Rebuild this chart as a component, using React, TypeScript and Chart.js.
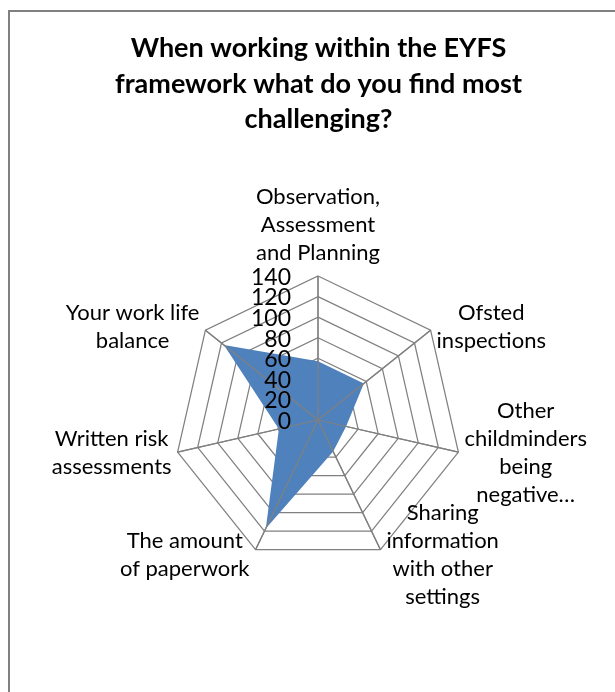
import React, { useEffect, useRef } from "react";
import { Chart, registerables } from "chart.js";

Chart.register(...registerables);

const TITLE_LINES = [
  "When working within the EYFS",
  "framework what do you find most",
  "challenging?",
];

const CATEGORIES: string[][] = [
  ["Observation,", "Assessment", "and Planning"],
  ["Ofsted", "inspections"],
  ["Other", "childminders", "being", "negative…"],
  ["Sharing", "information", "with other", "settings"],
  ["The amount", "of paperwork"],
  ["Written risk", "assessments"],
  ["Your work life", "balance"],
];

const SERIES_VALUES = [57, 57, 28, 34, 117, 39, 117];

const TICK_MIN = 0;
const TICK_MAX = 140;
const TICK_STEP = 20;

const GRID_COLOR = "#808080";
const FILL_COLOR = "#4F81BD";
const FONT_FAMILY = "Lato, 'Open Sans', sans-serif";

const overlayPlugin = {
  id: "overlay",
  afterDatasetsDraw(chart: any) {
    const scale = chart.scales.r;
    const ctx: CanvasRenderingContext2D = chart.ctx;
    const n = CATEGORIES.length;
    ctx.save();
    // spokes drawn over the filled area
    ctx.strokeStyle = GRID_COLOR;
    ctx.lineWidth = 1.25;
    for (let i = 0; i < n; i++) {
      const p = scale.getPointPosition(i, scale.drawingArea);
      ctx.beginPath();
      ctx.moveTo(scale.xCenter, scale.yCenter);
      ctx.lineTo(p.x, p.y);
      ctx.stroke();
    }
    // point labels, centred multi-line blocks
    const lh = 28;
    ctx.font = `22px ${FONT_FAMILY}`;
    ctx.fillStyle = "#000";
    ctx.textBaseline = "middle";
    ctx.textAlign = "center";
    for (let i = 0; i < n; i++) {
      const lines = CATEGORIES[i];
      const w = Math.max(...lines.map((l) => ctx.measureText(l).width));
      const p = scale.getPointPosition(i, scale.drawingArea);
      const a = scale.getIndexAngle(i);
      const dx = Math.sin(a);
      const dy = -Math.cos(a);
      let cx: number;
      let cy: number;
      const h = lines.length * lh;
      if (Math.abs(dx) < 0.05) {
        cx = p.x;
        cy = p.y - 9 - h / 2;
      } else {
        const gap = 6;
        cx = dx > 0 ? p.x + gap + w / 2 : p.x - gap - w / 2;
        cy = p.y + dy * 6;
      }
      lines.forEach((l, k) => {
        ctx.fillText(l, cx, cy - h / 2 + (k + 0.5) * lh);
      });
    }
    // tick labels, right-aligned left of the vertical axis
    ctx.textAlign = "right";
    ctx.font = `23px ${FONT_FAMILY}`;
    scale.ticks.forEach((t: any) => {
      const d = scale.getDistanceFromCenterForValue(t.value);
      ctx.fillText(String(t.value), scale.xCenter - 27, scale.yCenter - d + 1.5);
    });
    ctx.restore();
  },
};

export default function App() {
  const ref = useRef<HTMLCanvasElement>(null);
  useEffect(() => {
    if (!ref.current) return;
    const chart = new Chart(ref.current, {
      type: "radar",
      data: {
        labels: CATEGORIES.map((l) => l.join(" ")),
        datasets: [
          {
            label: "Responses",
            data: SERIES_VALUES,
            backgroundColor: FILL_COLOR,
            borderColor: FILL_COLOR,
            borderWidth: 0,
            pointRadius: 0,
            fill: true,
          },
        ],
      },
      options: {
        responsive: false,
        maintainAspectRatio: false,
        devicePixelRatio: 1,
        animation: false,
        layout: { padding: { left: 22, right: 0, top: 0, bottom: 127 } },
        plugins: {
          legend: { display: false },
          tooltip: { enabled: false },
          title: {
            display: true,
            text: TITLE_LINES,
            color: "#000",
            font: { family: FONT_FAMILY, size: 27, weight: "bold", lineHeight: 35.5 / 27 },
            padding: { top: 31, bottom: 139 },
          },
        },
        scales: {
          r: {
            min: TICK_MIN,
            max: TICK_MAX,
            beginAtZero: true,
            ticks: { stepSize: TICK_STEP, display: false },
            grid: { color: GRID_COLOR, lineWidth: 1.25, circular: false },
            angleLines: { color: GRID_COLOR, lineWidth: 1.25 },
            pointLabels: { display: false },
          },
        },
      },
      plugins: [overlayPlugin],
    });
    return () => chart.destroy();
  }, []);

  return (
    <div
      style={{
        position: "fixed",
        left: 0,
        top: 0,
        width: 615,
        height: 692,
        overflow: "hidden",
        background: "#fff",
      }}
    >
      <div
        style={{
          position: "absolute",
          left: 8,
          top: 10,
          width: 607,
          height: 682,
          borderLeft: `2px solid ${GRID_COLOR}`,
          borderTop: `2px solid ${GRID_COLOR}`,
          boxSizing: "border-box",
        }}
      />
      <canvas
        ref={ref}
        width={615}
        height={692}
        style={{ position: "absolute", left: 0, top: 0 }}
      />
    </div>
  );
}
